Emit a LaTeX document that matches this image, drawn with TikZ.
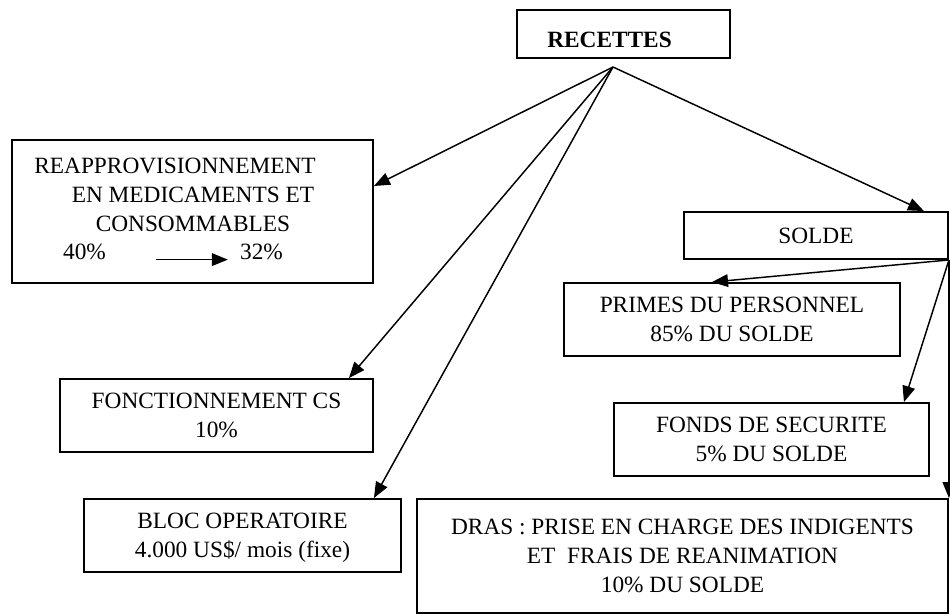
\documentclass[tikz,border=0pt]{standalone}
\usepackage{fontspec}
\setmainfont{Liberation Serif}
\usetikzlibrary{arrows.meta,calc}

\begin{document}
\begin{tikzpicture}[x=0.75pt,y=0.75pt,yscale=-1,xscale=1,
    boite/.style={draw, line width=1.4pt, inner sep=0pt, align=center, font=\fontsize{17.5}{21.75}\selectfont},
    texte/.style={inner sep=0pt, align=center, font=\fontsize{17.5}{21.75}\selectfont},
    fleche/.style={line width=1.1pt, -{Triangle[length=12pt,width=9.5pt]}}]
    \useasboundingbox (0,0) rectangle (950,615);

    \node [boite, minimum width=159.75pt, minimum height=36pt, text height=19.6pt, text depth=0pt] (recettes) at (623.5,34) {\textbf{RECETTES}\hspace*{21pt}};
    \node [boite, minimum width=270.75pt, minimum height=107.25pt] (reapp) at (192.5,211.5) {};
    \node [texte] (reapptxt) at (193,195) {REAPPROVISIONNEMENT\hspace*{27pt}\\EN MEDICAMENTS ET\\CONSOMMABLES};
    \node [texte] (p40) at (84.5,252) {40\%};
    \node [texte] (p32) at (261.5,252) {32\%};
    \node [boite, minimum width=234.75pt, minimum height=54.75pt, text depth=0pt] (fonct) at (216.5,415.5) {FONCTIONNEMENT CS\\10\%};
    \node [boite, minimum width=237.75pt, minimum height=54.75pt, text depth=0pt] (bloc) at (242.5,535.5) {BLOC OPERATOIRE\\4.000 US\$/ mois (fixe)};
    \node [boite, minimum width=198pt, minimum height=35.25pt] (solde) at (816,235.5) {SOLDE};
    \node [boite, minimum width=252pt, minimum height=54.75pt, text depth=0pt] (primes) at (732,319.5) {PRIMES DU PERSONNEL\\85\% DU SOLDE};
    \node [boite, minimum width=236.25pt, minimum height=54.75pt, text depth=0pt] (fonds) at (771.5,439.5) {FONDS DE SECURITE\\5\% DU SOLDE};
    \node [boite, minimum width=398.25pt, minimum height=85.5pt] (dras) at (682.5,556) {DRAS : PRISE EN CHARGE DES INDIGENTS\\ET\ \ FRAIS DE REANIMATION\\10\% DU SOLDE};

    \coordinate (orig) at (613,67);
    \draw [fleche, shorten <=37.5pt, shorten >=9pt] (p40.base east) -- (p32.base west);
    \draw [fleche] (orig) -- ($(reapp.east)+(0,-25.5)$);
    \draw [fleche] (orig) -- ($(fonct.north east)+(-25,0)$);
    \draw [fleche] (orig) -- ($(bloc.north east)+(-28,0)$);
    \draw [fleche] (orig) -- ($(solde.north east)+(-25,0)$);
    \draw [fleche] (solde.south east) -- ($(primes.north)+(-20,0)$);
    \draw [fleche] (solde.south east) -- ($(fonds.north east)+(-26,0)$);
    \draw [fleche] (solde.south east) -- (dras.north east);
\end{tikzpicture}
\end{document}
